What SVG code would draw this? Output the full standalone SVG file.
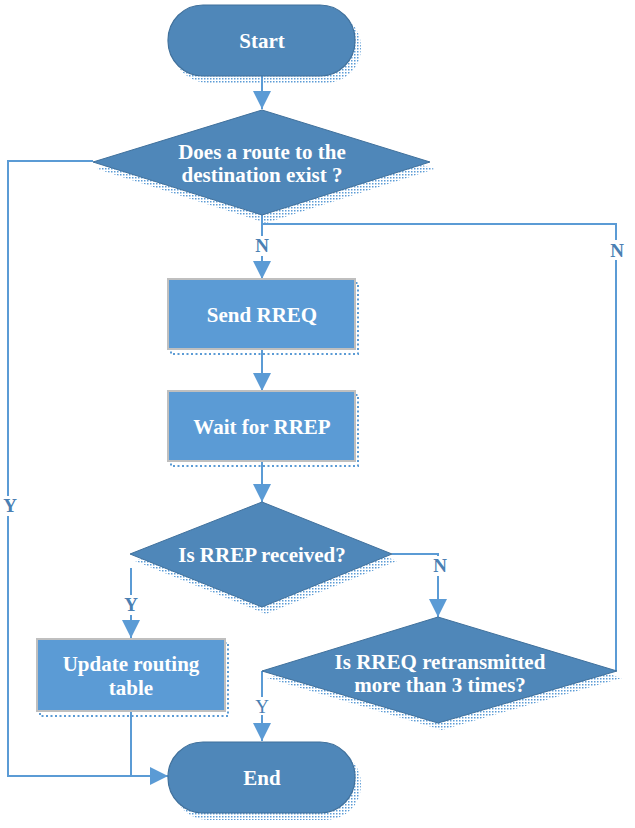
<svg xmlns="http://www.w3.org/2000/svg" width="635" height="828" viewBox="0 0 635 828">
<style>
.term{fill:#4f87b9;stroke:#41719c;stroke-width:1.2}
.dia{fill:#4f87b9;stroke:#41719c;stroke-width:1}
.box{fill:#5b9bd5;stroke:#bfbfbf;stroke-width:2}
.sh{fill:url(#dots)}
.bsh{fill:none;stroke:#5b9bd5;stroke-width:2;stroke-dasharray:2 2.5}
.t{font-family:"Liberation Serif","Times New Roman",serif;font-weight:bold;font-size:21px;fill:#ffffff;text-anchor:middle}
.lbl{font-family:"Liberation Serif","Times New Roman",serif;font-weight:bold;font-size:19px;fill:#4a80b3;text-anchor:middle}
.lblr{font-family:"Liberation Serif","Times New Roman",serif;font-size:19px;fill:#4a80b3;text-anchor:middle}
.c{fill:none;stroke:#5b9bd5;stroke-width:2}
</style>
<defs>
<pattern id="dots" width="3" height="3" patternUnits="userSpaceOnUse">
<rect x="0" y="0" width="1.5" height="1.5" fill="#5b9bd5"/>
</pattern>
<marker id="ah" markerUnits="userSpaceOnUse" markerWidth="18" markerHeight="18" viewBox="0 0 18 18" refX="18" refY="9" orient="auto">
<path d="M0,0 L18,9 L0,18 Z" fill="#5b9bd5"/>
</marker>
</defs>
<rect width="635" height="828" fill="#ffffff"/>

<g id="connectors">
<line class="c" x1="262" y1="76" x2="262" y2="109" marker-end="url(#ah)"/>
<line class="c" x1="262" y1="215" x2="262" y2="279" marker-end="url(#ah)"/>
<polyline class="c" points="262,224 616,224 616,671"/>
<line class="c" x1="262" y1="349" x2="262" y2="391" marker-end="url(#ah)"/>
<line class="c" x1="262" y1="461" x2="262" y2="502" marker-end="url(#ah)"/>
<polyline class="c" points="93,161 8,161 8,776 168,776" marker-end="url(#ah)"/>
<line class="c" x1="131" y1="568" x2="131" y2="638" marker-end="url(#ah)"/>
<polyline class="c" points="392,554 438,554 438,617" marker-end="url(#ah)"/>
<line class="c" x1="262" y1="671" x2="262" y2="741" marker-end="url(#ah)"/>
<polyline class="c" points="131,711 131,776"/>
<rect x="250" y="236" width="24" height="20" fill="#ffffff"/>
<text class="lbl" x="262" y="252">N</text>
<rect x="605" y="240" width="24" height="20" fill="#ffffff"/>
<text class="lbl" x="617" y="257">N</text>
<rect x="0" y="496" width="20" height="20" fill="#ffffff"/>
<text class="lbl" x="10" y="512">Y</text>
<rect x="120" y="595" width="22" height="20" fill="#ffffff"/>
<text class="lbl" x="131" y="611">Y</text>
<rect x="428" y="556" width="24" height="20" fill="#ffffff"/>
<text class="lbl" x="440" y="572">N</text>
<rect x="251" y="697" width="22" height="18" fill="#ffffff"/>
<text class="lblr" x="262" y="713">Y</text>
</g>

<g id="start">
<rect class="sh" x="173" y="12" width="188" height="71" rx="35"/>
<rect class="term" x="168" y="5" width="187" height="71" rx="35"/>
<text class="t" x="262" y="48">Start</text>
</g>

<g id="route-exists">
<polygon class="sh" points="266,118 435,169 266,223 97,169"/>
<polygon class="dia" points="262,110 430,162 262,215 93,162"/>
<text class="t" x="262" y="159">Does a route to the</text>
<text class="t" x="262" y="182">destination exist ?</text>
</g>

<g id="send-rreq">
<rect class="bsh" x="171" y="283" width="187" height="71"/>
<rect class="box" x="168" y="279" width="187" height="70"/>
<text class="t" x="262" y="322">Send RREQ</text>
</g>

<g id="wait-rrep">
<rect class="bsh" x="171" y="395" width="187" height="71"/>
<rect class="box" x="168" y="391" width="187" height="70"/>
<text class="t" x="262" y="434">Wait for RREP</text>
</g>

<g id="rrep-received">
<polygon class="sh" points="266,509 397,561 266,614 135,561"/>
<polygon class="dia" points="262,502 392,554 262,607 130,554"/>
<text class="t" x="262" y="562">Is RREP received?</text>
</g>

<g id="update-table">
<rect class="bsh" x="40" y="643" width="188" height="73"/>
<rect class="box" x="37" y="639" width="188" height="72"/>
<text class="t" x="131" y="671">Update routing</text>
<text class="t" x="131" y="695">table</text>
</g>

<g id="retransmitted">
<polygon class="sh" points="442,624 622,678 442,730 267,678"/>
<polygon class="dia" points="438,617 617,671 438,723 262,671"/>
<text class="t" x="440" y="669">Is RREQ retransmitted</text>
<text class="t" x="440" y="692">more than 3 times?</text>
</g>

<g id="end">
<rect class="sh" x="173" y="749" width="188" height="71" rx="35"/>
<rect class="term" x="168" y="742" width="187" height="71" rx="35"/>
<text class="t" x="262" y="785">End</text>
</g>
</svg>
